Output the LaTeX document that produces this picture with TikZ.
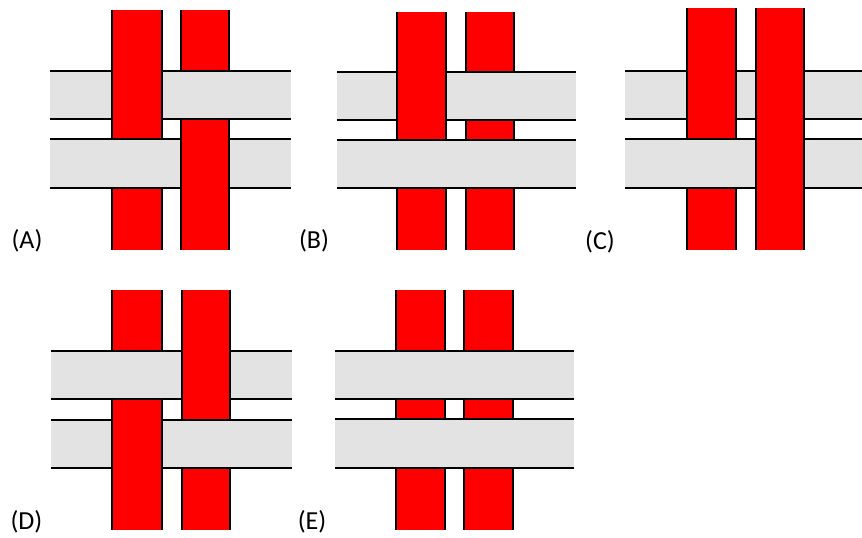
\documentclass[tikz,border=0pt]{standalone}
\usepackage{fontspec}
\setmainfont{Carlito}
\definecolor{hgray}{RGB}{227,227,227}
\definecolor{vred}{RGB}{255,0,0}
\tikzset{
  hfill/.style={fill=hgray},
  vfill/.style={fill=vred},
  edge/.style={draw=black,line width=2.4pt},
  lab/.style={inner sep=0pt,font=\fontsize{26}{31}\selectfont}
}
\newcommand\HStrip[4]{% x1 x2 y1 y2
  \fill[hfill] (#1,#3) rectangle (#2,#4);
  \draw[edge] (#1,#3) -- (#2,#3) (#1,#4) -- (#2,#4);}
\newcommand\VStrip[4]{% x1 x2 y1 y2
  \fill[vfill] (#1,#3) rectangle (#2,#4);
  \draw[edge] (#1,#3) -- (#1,#4) (#2,#3) -- (#2,#4);}
\newcommand\HOver[4]{% vertical x1 x2, horizontal y1 y2
  \HStrip{#1-1.7}{#2+1.7}{#3}{#4}}
\begin{document}
\begin{tikzpicture}[x=1pt,y=-1pt]
\useasboundingbox (0,0) rectangle (862,538);
% ---------- Panel A ----------
\HStrip{50}{291}{71}{119}
\HStrip{50}{291}{139}{188}
\VStrip{112}{162}{10}{250}
\VStrip{181}{229}{10}{250}
\HOver{181}{229}{71}{119}
\HOver{112}{162}{139}{188}
\node[lab] (la) at (27,241) {(A)};
% ---------- Panel B ----------
\HStrip{337}{576}{72}{120}
\HStrip{337}{576}{140}{188}
\VStrip{397}{446}{12}{250}
\VStrip{466}{514}{12}{250}
\HOver{466}{514}{72}{120}
\HOver{397}{446}{140}{188}
\HOver{466}{514}{140}{188}
\node[lab] (lb) at (314,241) {(B)};
% ---------- Panel C ----------
\HStrip{625}{862}{71}{119}
\HStrip{625}{862}{139}{188}
\VStrip{687}{736}{8}{250}
\VStrip{756}{804}{8}{250}
\HOver{687}{736}{139}{188}
\node[lab] (lc) at (600,242) {(C)};
% ---------- Panel D ----------
\HStrip{51}{292}{351}{399}
\HStrip{51}{292}{420}{468}
\VStrip{112}{162}{290}{530}
\VStrip{182}{230}{290}{530}
\HOver{112}{162}{351}{399}
\HOver{182}{230}{420}{468}
\node[lab] (ld) at (26.5,521.5) {(D)};
% ---------- Panel E ----------
\HStrip{335}{574}{351}{399}
\HStrip{335}{574}{419}{468}
\VStrip{396}{445}{290}{530}
\VStrip{464}{513}{290}{530}
\HOver{396}{445}{351}{399}
\HOver{464}{513}{351}{399}
\HOver{396}{445}{419}{468}
\HOver{464}{513}{419}{468}
\node[lab] (le) at (312,521.5) {(E)};
\end{tikzpicture}
\end{document}
